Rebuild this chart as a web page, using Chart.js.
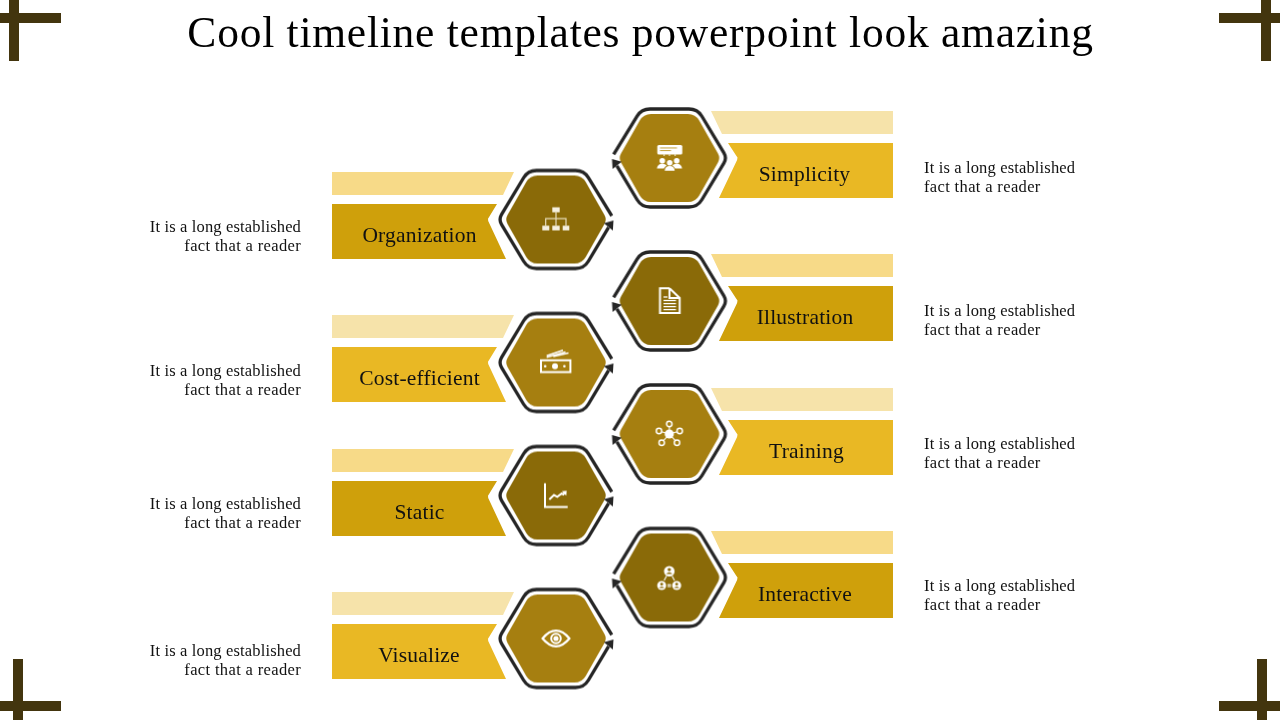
<!DOCTYPE html>
<html><head><meta charset="utf-8">
<style>html,body{margin:0;padding:0;background:#fff}canvas{display:block}</style>
<script src="https://cdn.jsdelivr.net/npm/chart.js@4"></script>
</head><body><canvas id="c" width="1280" height="720" style="width:1280px;height:720px"></canvas>
<script>
const titleText = "Cool timeline templates powerpoint look amazing";
const leftLabels = ["Organization","Cost-efficient","Static","Visualize"];
const leftHexY = [219.5,362.5,495.5,638.5];
const leftBannerShift = [0,0,1,1];
const leftLabelX = [419.5,419.5,419.5,419];
const leftDescY = [232,376,509,656];
const leftIcons = ["org","money","chart","eye"];
const rightLabels = ["Simplicity","Illustration","Training","Interactive"];
const rightHexY = [158,301,434,577.5];
const rightBannerShift = [0,0,1,0.5];
const rightLabelX = [804.5,805,806.5,805];
const rightDescY = [173,316,449,591];
const rightIcons = ["people","doc","network","trio"];
const descLine1 = "It is a long established";
const descLine2 = "fact that a reader";
const leftHexX = 556, rightHexX = 669.5;
const C = {hexD:"#8A6A08",hexL:"#A67F10",barD:"#CFA00B",barL:"#E9B824",paleD:"#F7DA88",paleL:"#F6E3AA",ring:"#262626",corner:"#43350E"};
const leftTone = [0,1,0,1], rightTone = [1,0,1,0];

function rr(g,pts,radii){ // closed rounded polygon
  const n=pts.length;
  const a=pts[n-1],b=pts[0];
  g.moveTo((a[0]+b[0])/2,(a[1]+b[1])/2);
  for(let i=0;i<n;i++){const p=pts[i],q=pts[(i+1)%n];g.arcTo(p[0],p[1],q[0],q[1],radii[i]);
    if(i<n-1)g.lineTo((p[0]+q[0])/2,(p[1]+q[1])/2);}
  g.closePath();
}
function drawIcon(g,k){
  g.fillStyle="#fff";g.strokeStyle="#fff";g.lineWidth=2;g.lineCap="butt";
  const L=(a)=>{g.beginPath();g.moveTo(a[0],a[1]);for(let i=2;i<a.length;i+=2)g.lineTo(a[i],a[i+1]);g.stroke();};
  const D=(x,y,r)=>{g.beginPath();g.arc(x,y,r,0,Math.PI*2);g.fill();};
  const O=(x,y,r)=>{g.beginPath();g.arc(x,y,r,0,Math.PI*2);g.stroke();};
  if(k==="org"){
    g.fillStyle="#F5F0E0";
    g.fillRect(-3.7,-12.2,7.4,5);g.fillRect(-13.7,6.2,7,4.7);g.fillRect(-3.7,6.2,7.4,4.7);g.fillRect(6.7,6.2,6.6,4.7);
    g.strokeStyle="#E8DDBA";g.lineWidth=1.2;
    L([0,-7,0,6]);L([-10.3,6,-10.3,-.8,10,-.8,10,6]);
  } else if(k==="people"){
    g.beginPath();g.roundRect(-12.2,-13,25,9.4,1.5);g.fill();
    g.fillStyle="#C9A94A";g.fillRect(-9.5,-10.6,17,1.1);g.fillRect(-9.5,-8,11,1.1);
    g.fillStyle="#fff";g.fillRect(-6,-3.6,1.2,1.4);g.fillRect(-.6,-3.6,1.2,1.4);g.fillRect(5,-3.6,1.2,1.4);
    D(-7.2,2.7,2.8);D(7.2,2.7,2.8);D(.2,4.7,2.8);
    g.beginPath();g.moveTo(-12.6,10.5);g.quadraticCurveTo(-12,5.8,-7.2,5.8);g.quadraticCurveTo(-4,5.8,-2.8,7.6);g.quadraticCurveTo(-5,9,-5.6,10.5);g.closePath();g.fill();
    g.beginPath();g.moveTo(12.6,10.5);g.quadraticCurveTo(12,5.8,7.2,5.8);g.quadraticCurveTo(4,5.8,2.8,7.6);g.quadraticCurveTo(5,9,5.6,10.5);g.closePath();g.fill();
    g.beginPath();g.moveTo(-4.8,12.7);g.quadraticCurveTo(-4.5,8,.2,8);g.quadraticCurveTo(5,8,5.2,12.7);g.closePath();g.fill();
  } else if(k==="doc"){
    g.lineWidth=2;g.lineJoin="miter";
    L([0,-12.7,-9.5,-12.7,-9.5,12,10.2,12,10.2,-3,0,-12.7]);
    L([0,-12.7,0,-3,10.2,-3]);
    g.lineWidth=1.3;
    L([-6,-4,-2,-4]);L([-6,-.5,6.5,-.5]);L([-6,2.6,6.5,2.6]);L([-6,5.6,6.5,5.6]);L([-6,8.6,6.5,8.6]);
  } else if(k==="money"){
    g.lineWidth=2;g.strokeRect(-15,-2.2,29.4,11.8);
    D(-1,3.7,3);D(-10.8,3.7,1.3);D(8.4,3.7,1.3);
    g.lineWidth=1.5;
    L([-9.3,-6.8,7,-12.2]);L([-9.3,-5.2,9.5,-10.5]);
    L([-2.7,-6,12.5,-9.4]);
  } else if(k==="network"){
    const n=[[-.2,-10],[-10.5,-3],[10.2,-3],[-7.8,8.7],[7.5,8.7]];
    g.lineWidth=1.1;
    n.forEach(p=>L([0,0,p[0],p[1]]));
    g.lineWidth=1.5;
    n.forEach(p=>{g.save();g.fillStyle="#A67F10";D(p[0],p[1],2.7);g.restore();O(p[0],p[1],2.7);});
    D(-.2,0,4.6);
  } else if(k==="chart"){
    g.lineWidth=2;
    L([-11,-12.2,-11,11.5,11.7,11.5]);
    L([-6.7,4,-2,-.5,1.3,1.3,5.7,-2,7.3,-1,9.5,-3.6]);
    g.beginPath();g.moveTo(10.7,-4.8);g.lineTo(5.8,-4.3);g.lineTo(10.3,.2);g.closePath();g.fill();
  } else if(k==="trio"){
    const person=(x,y,r)=>{D(x,y,r);g.save();g.fillStyle="#8A6A08";D(x,y-r*.3,r*.32);
      g.beginPath();g.moveTo(x-r*.6,y+r*.55);g.quadraticCurveTo(x,y-r*.15,x+r*.6,y+r*.55);g.closePath();g.fill();g.restore();};
    person(-.2,-6.3,5.3);person(-7.8,8,4.5);person(7.2,8,4.5);
    g.lineWidth=1.1;L([-3,-1.5,-5.3,3]);L([2.6,-1.5,5,3]);L([-2,7.2,1.6,7.2]);L([-2,9,1.6,9]);
  } else if(k==="eye"){
    g.lineWidth=2.2;
    g.beginPath();g.moveTo(-13.4,0);g.quadraticCurveTo(-7,-7.8,0,-7.8);g.quadraticCurveTo(7,-7.8,13.4,0);g.quadraticCurveTo(7,7.8,0,7.8);g.quadraticCurveTo(-7,7.8,-13.4,0);g.closePath();g.stroke();
    g.lineWidth=2;O(0,0,4.8);D(0,0,2.6);
  }
}
function hexSprite(fill,icon,mirror){
  const cv=document.createElement("canvas");cv.width=140;cv.height=120;
  const g=cv.getContext("2d");g.translate(70,60);
  g.fillStyle=fill;g.beginPath();
  rr(g,[[51,0],[26,44],[-26,44],[-51,0],[-26,-44],[26,-44]],[9,13,13,9,13,13]);g.fill();
  g.save();if(mirror)g.scale(-1,1);
  g.strokeStyle=C.ring;g.lineWidth=3.3;g.lineJoin="round";
  g.beginPath();g.moveTo(55.8,-3.6);
  g.arcTo(28,-49,-28,-49,15);g.arcTo(-28,-49,-57.5,0,15);g.arcTo(-57.5,0,-28,49,10);
  g.arcTo(-28,49,28,49,15);g.arcTo(28,49,57.5,0,15);g.lineTo(52.6,7.8);g.stroke();
  g.fillStyle=C.ring;g.beginPath();g.moveTo(57.5,1);g.lineTo(47.8,3.8);g.lineTo(56.9,11);g.closePath();g.fill();
  g.restore();
  drawIcon(g,icon);
  return cv;
}
const poly=(arr,hx,hy)=>arr.map(p=>({x:hx+p[0],y:hy+p[1]}));
const shape=(data,color)=>({data,showLine:true,fill:"shape",backgroundColor:color,borderColor:color,borderWidth:0,pointRadius:0,tension:0});
const arm=(x1,y1,x2,y2)=>({data:[{x:x1,y:y1},{x:x2,y:y2}],showLine:true,fill:false,borderColor:C.corner,borderWidth:10,pointRadius:0,tension:0,borderCapStyle:"butt"});

const datasets=[];
// hexagon medallions
datasets.push({data:leftHexY.map(y=>({x:leftHexX,y})),showLine:false,pointRadius:1,
  pointStyle:leftIcons.map((k,i)=>hexSprite(leftTone[i]?C.hexL:C.hexD,k,false))});
datasets.push({data:rightHexY.map(y=>({x:rightHexX,y})),showLine:false,pointRadius:1,
  pointStyle:rightIcons.map((k,i)=>hexSprite(rightTone[i]?C.hexL:C.hexD,k,true))});
// banners
leftHexY.forEach((hy,i)=>{
  const X=332-leftHexX, y=hy+leftBannerShift[i];
  datasets.push(shape(poly([[X,-47.5],[-42,-47.5],[-53,-24.5],[X,-24.5],[X,-47.5]],leftHexX,y),leftTone[i]?C.paleL:C.paleD));
  datasets.push(shape(poly([[X,-15.5],[-59,-15.5],[-66.6,-3],[-68,-.8],[-67.8,1.6],[-50,39.5],[X,39.5],[X,-15.5]],leftHexX,y),leftTone[i]?C.barL:C.barD));
});
rightHexY.forEach((hy,i)=>{
  const X=893-rightHexX, y=hy+rightBannerShift[i];
  datasets.push(shape(poly([[X,-47],[41.5,-47],[52.5,-24],[X,-24],[X,-47]],rightHexX,y),rightTone[i]?C.paleL:C.paleD));
  datasets.push(shape(poly([[X,-15],[58.5,-15],[66.6,-2.6],[68,-.4],[67.6,2],[49.5,40],[X,40],[X,-15]],rightHexX,y),rightTone[i]?C.barL:C.barD));
});
// corner crosses
datasets.push(arm(14,0,14,61),arm(0,18,61,18),
  arm(1266,0,1266,61),arm(1219,18,1280,18),
  arm(18,659,18,720),arm(0,706,61,706),
  arm(1262,659,1262,720),arm(1219,706,1280,706));

const textPlugin={id:"texts",afterDraw(chart){
  const {ctx,scales:{x,y}}=chart;
  const put=(t,px,py,font,align,sp,col)=>{ctx.font=font;ctx.textAlign=align;ctx.textBaseline="alphabetic";ctx.letterSpacing=sp;ctx.fillStyle=col;
    ctx.fillText(t,x.getPixelForValue(px),y.getPixelForValue(py));};
  ctx.save();
  const serif='"Liberation Serif", serif';
  put(titleText,640.5,47,"43.5px "+serif,"center","0.75px","#000");
  const lab="21.5px "+serif, des="16.5px "+serif;
  leftLabels.forEach((t,i)=>{
    put(t,leftLabelX[i],leftHexY[i]+leftBannerShift[i]+22.5,lab,"center","0.2px","#111");
    put(descLine1,301,leftDescY[i],des,"right","0.15px","#111");
    put(descLine2,301,leftDescY[i]+19,des,"right","0.35px","#111");
  });
  rightLabels.forEach((t,i)=>{
    put(t,rightLabelX[i],rightHexY[i]+rightBannerShift[i]+23,lab,"center","0.2px","#111");
    put(descLine1,924,rightDescY[i],des,"left","0.15px","#111");
    put(descLine2,924,rightDescY[i]+19,des,"left","0.35px","#111");
  });
  ctx.restore();
}};
new Chart(document.getElementById("c"),{
  type:"scatter",
  data:{datasets},
  plugins:[textPlugin],
  options:{responsive:false,animation:false,events:[],
    layout:{padding:0,autoPadding:false},
    plugins:{legend:{display:false},tooltip:{enabled:false},title:{display:false}},
    scales:{x:{type:"linear",min:0,max:1280,display:false},y:{type:"linear",min:0,max:720,reverse:true,display:false}}
  }
});
</script></body></html>
